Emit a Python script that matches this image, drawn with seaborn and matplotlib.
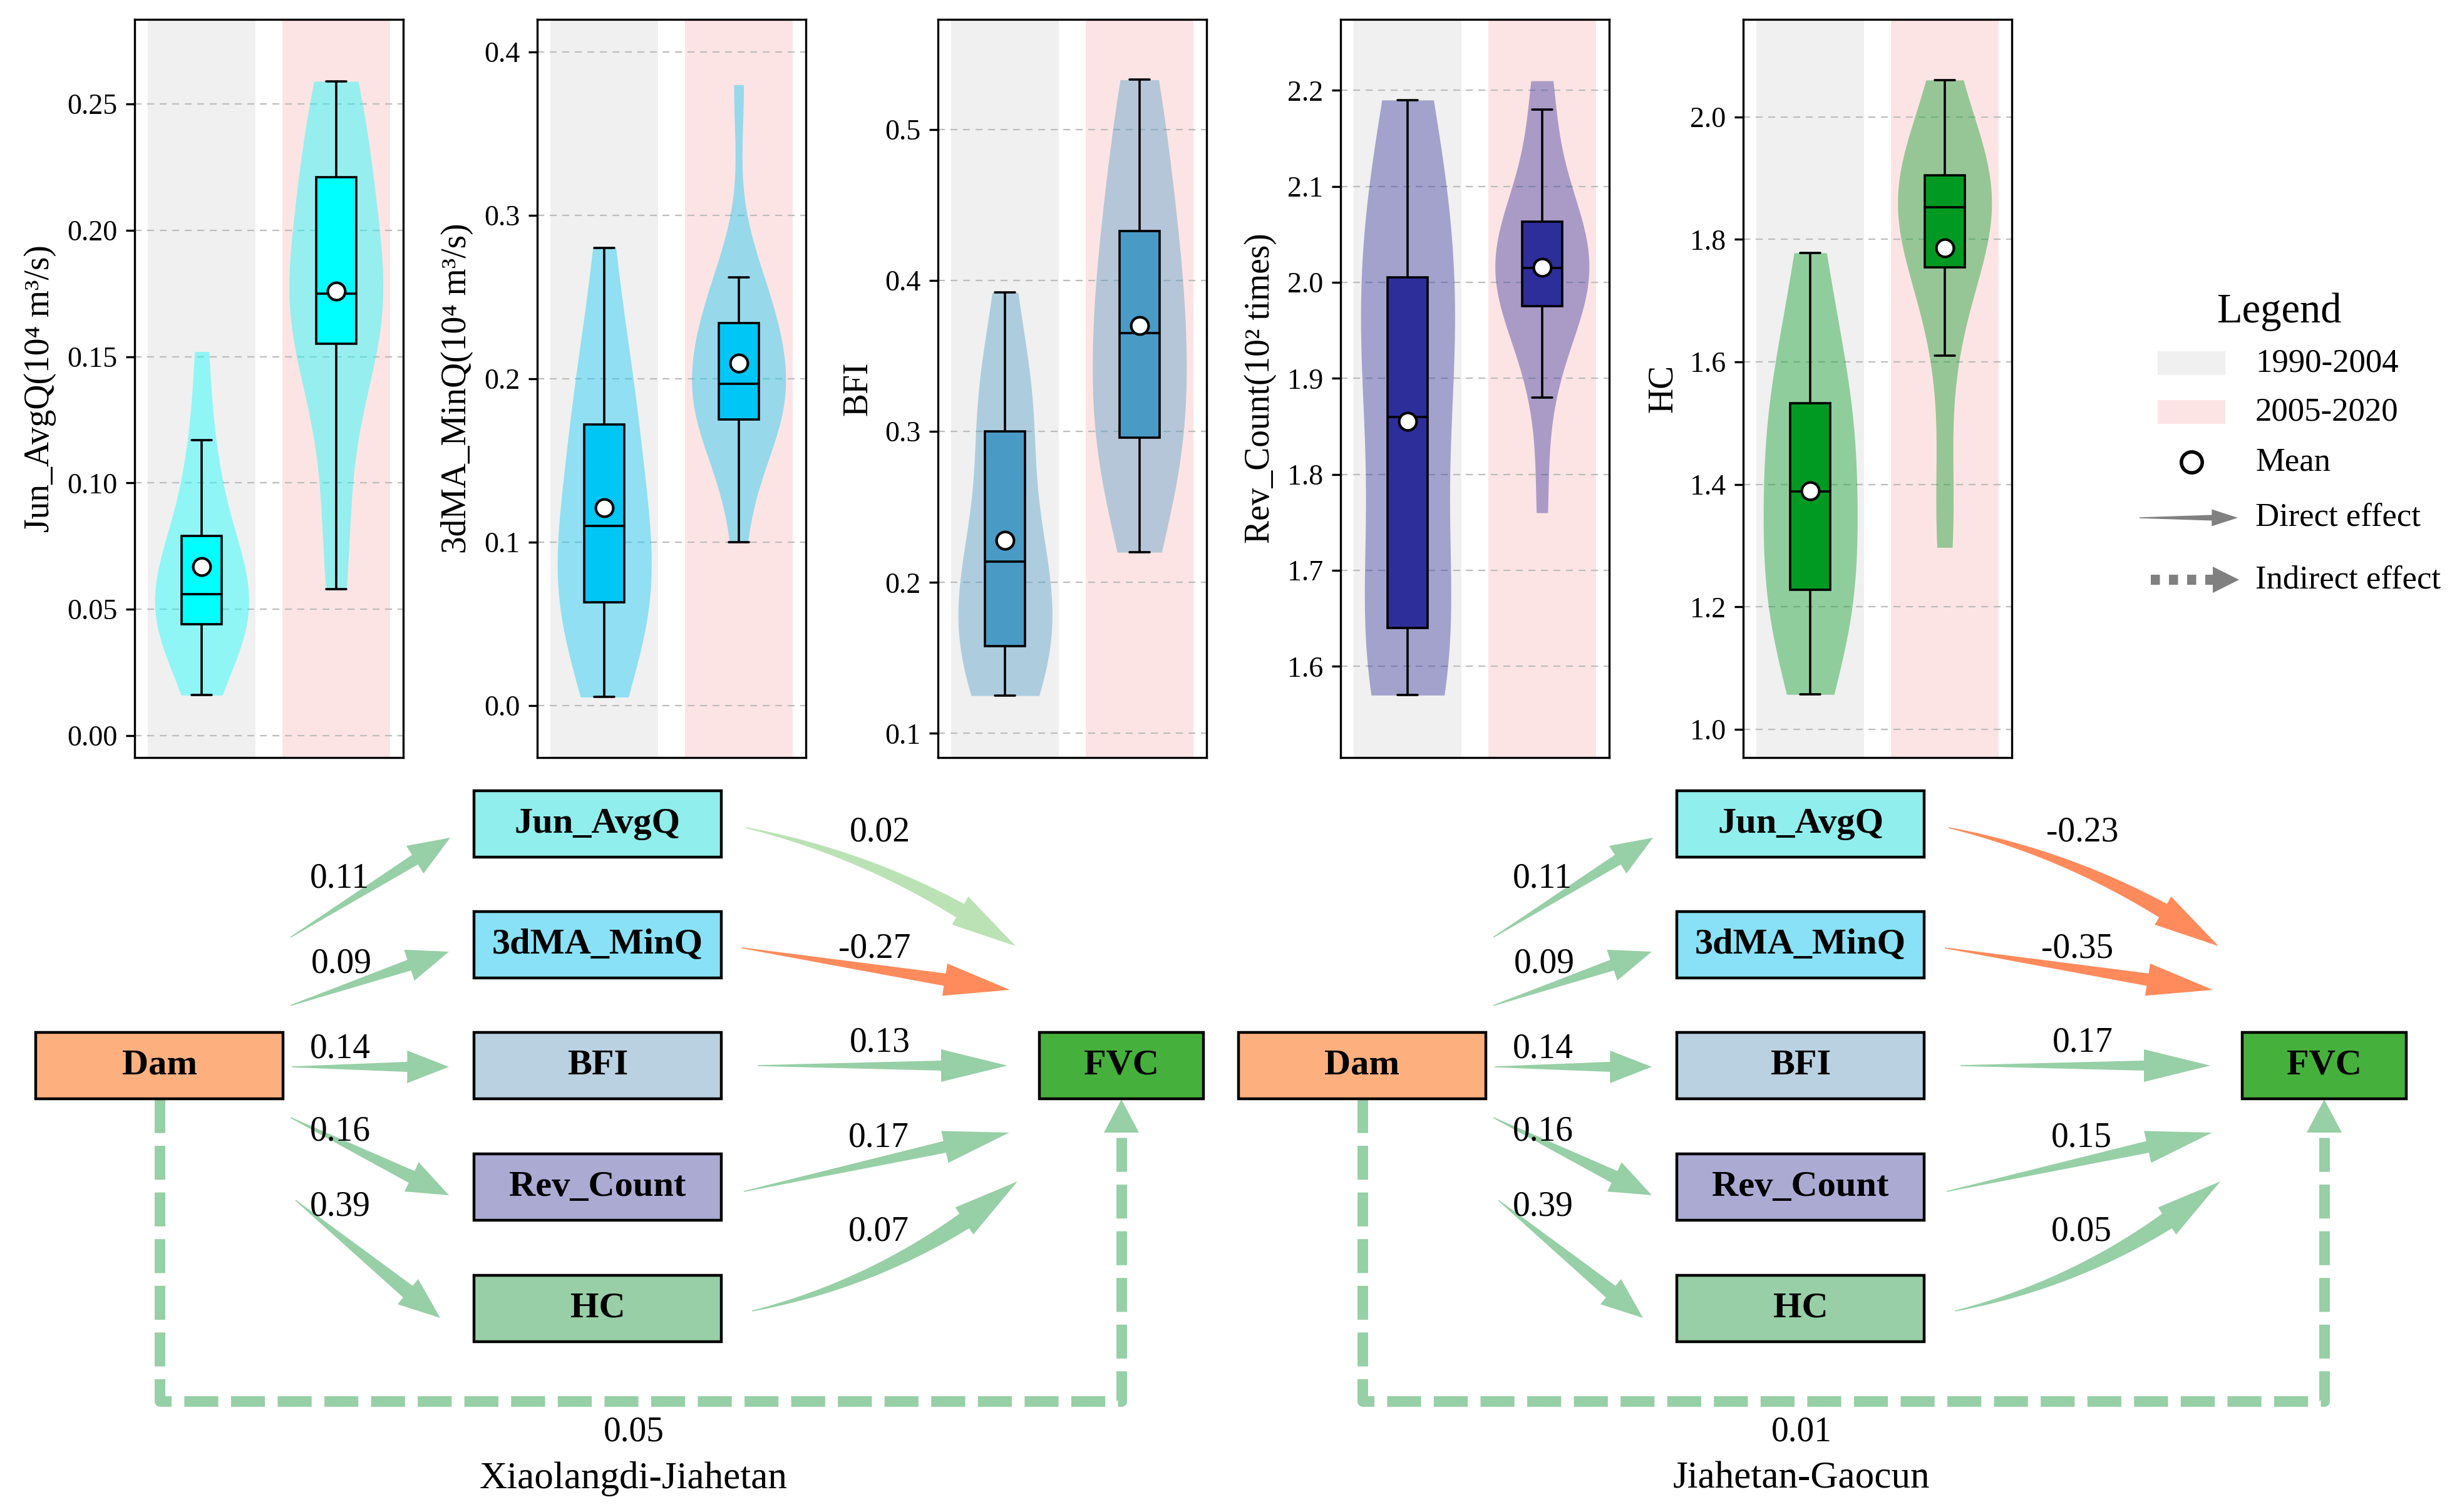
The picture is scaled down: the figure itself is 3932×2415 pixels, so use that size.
import numpy as np
import pandas as pd
import seaborn as sns
import matplotlib.pyplot as plt
from matplotlib.patches import Polygon, Rectangle
from matplotlib.ticker import FormatStrFormatter

sns.set_style('white')
plt.rcParams['font.family'] = ['Liberation Serif', 'DejaVu Serif']
plt.rcParams['text.color'] = 'black'
plt.rcParams['axes.labelcolor'] = 'black'
plt.rcParams['ytick.color'] = 'black'

# ---------------- data ----------------
periods = ['1990-2004', '2005-2020']
variables = ['Jun_AvgQ', '3dMA_MinQ', 'BFI', 'Rev_Count', 'HC']
ylabels = ['Jun_AvgQ(10⁴ m³/s)', '3dMA_MinQ(10⁴ m³/s)', 'BFI', 'Rev_Count(10² times)', 'HC']

jun_avgq_1990 = [0.016, 0.030, 0.040, 0.043, 0.045, 0.050, 0.053, 0.056, 0.064, 0.076, 0.077, 0.081, 0.105, 0.117, 0.152]
jun_avgq_2005 = [0.058, 0.085, 0.120, 0.152, 0.156, 0.163, 0.168, 0.172, 0.178, 0.183, 0.197, 0.219, 0.227, 0.231, 0.248, 0.259]
minq_1990 = [0.005, 0.030, 0.050, 0.061, 0.065, 0.080, 0.095, 0.110, 0.125, 0.140, 0.165, 0.179, 0.205, 0.225, 0.280]
minq_2005 = [0.100, 0.150, 0.168, 0.172, 0.176, 0.186, 0.192, 0.194, 0.200, 0.215, 0.230, 0.232, 0.240, 0.258, 0.262, 0.380]
bfi_1990 = [0.125, 0.135, 0.148, 0.155, 0.161, 0.182, 0.200, 0.214, 0.220, 0.235, 0.290, 0.310, 0.318, 0.335, 0.392]
bfi_2005 = [0.220, 0.250, 0.275, 0.292, 0.297, 0.320, 0.340, 0.360, 0.370, 0.385, 0.416, 0.430, 0.442, 0.480, 0.510, 0.533]
rev_1990 = [1.57, 1.59, 1.61, 1.63, 1.65, 1.76, 1.83, 1.86, 1.93, 1.97, 1.99, 2.02, 2.09, 2.135, 2.19]
rev_2005 = [1.760, 1.880, 1.940, 1.972, 1.976, 1.990, 2.000, 2.010, 2.020, 2.035, 2.050, 2.060, 2.072, 2.100, 2.180, 2.210]
hc_1990 = [1.057, 1.120, 1.180, 1.220, 1.236, 1.290, 1.340, 1.388, 1.420, 1.470, 1.520, 1.544, 1.600, 1.680, 1.778]
hc_2005 = [1.297, 1.400, 1.610, 1.700, 1.773, 1.780, 1.800, 1.845, 1.859, 1.862, 1.875, 1.900, 1.920, 1.930, 1.960, 2.060]

series = [(jun_avgq_1990, jun_avgq_2005), (minq_1990, minq_2005), (bfi_1990, bfi_2005),
          (rev_1990, rev_2005), (hc_1990, hc_2005)]

# path coefficients
reaches = ['Xiaolangdi-Jiahetan', 'Jiahetan-Gaocun']
dam_to_mediator = [[0.11, 0.09, 0.14, 0.16, 0.39], [0.11, 0.09, 0.14, 0.16, 0.39]]
mediator_to_fvc = [[0.02, -0.27, 0.13, 0.17, 0.07], [-0.23, -0.35, 0.17, 0.15, 0.05]]
indirect = [0.05, 0.01]

# ---------------- styles / layout ----------------
W, H = 3932, 2415
box_colors = ['#00FFFF', '#00C6F6', '#4A9AC6', '#2E2E9A', '#009A22']
band_colors = ['#F0F0F0', '#FDE4E4']
ylims = [(-0.0087, 0.2835), (-0.032, 0.42), (0.084, 0.573), (1.505, 2.274), (0.954, 2.159)]
yticks = [np.arange(0, 0.26, 0.05), np.arange(0, 0.41, 0.1), np.arange(0.1, 0.51, 0.1),
          np.arange(1.6, 2.21, 0.1), np.arange(1.0, 2.01, 0.2)]
yfmt = ['%.2f', '%.1f', '%.1f', '%.1f', '%.1f']
panel_left = [215, 858, 1498, 2141, 2784]
panel_w, panel_top, panel_bot = 429, 31, 1210

node_colors = {'Dam': '#FDB07E', 'Jun_AvgQ': '#90EEEC', '3dMA_MinQ': '#88E1F6', 'BFI': '#B9D1E1',
               'Rev_Count': '#AAAAD3', 'HC': '#98CFA6', 'FVC': '#46B03C'}
green, light_green, orange = '#97CFA6', '#BBE2B5', '#FF8A5B'

fig = plt.figure(figsize=(W / 200, H / 200), dpi=200)

# overlay axes in pixel coordinates for diagrams and legend
ov = fig.add_axes([0, 0, 1, 1])
ov.set_xlim(0, W)
ov.set_ylim(H, 0)
ov.axis('off')

# ---------------- violin + box panels ----------------
for i, var in enumerate(variables):
    a, b = series[i]
    ax = fig.add_axes([panel_left[i] / W, 1 - panel_bot / H, panel_w / W, (panel_bot - panel_top) / H])
    ax.axvspan(-0.4, 0.4, color=band_colors[0], lw=0, zorder=0)
    ax.axvspan(0.6, 1.4, color=band_colors[1], lw=0, zorder=0)
    df = pd.DataFrame({'period': [periods[0]] * len(a) + [periods[1]] * len(b), 'value': a + b})
    n0 = len(ax.collections)
    sns.violinplot(data=df, x='period', y='value', order=periods, color=box_colors[i], saturation=1,
                   inner=None, cut=0, density_norm='width', width=0.7, linewidth=0, ax=ax)
    for c in ax.collections[n0:]:
        c.set_alpha(0.4)
        c.set_zorder(1)
    sns.boxplot(data=df, x='period', y='value', order=periods, color=box_colors[i], saturation=1,
                width=0.3, showfliers=False, showmeans=True, linecolor='black', linewidth=1.3,
                meanprops=dict(marker='o', markerfacecolor='white', markeredgecolor='black',
                               markersize=10, markeredgewidth=1.5), ax=ax)
    ax.set_xlim(-0.5, 1.5)
    ax.set_ylim(*ylims[i])
    ax.set_yticks(yticks[i])
    ax.yaxis.set_major_formatter(FormatStrFormatter(yfmt[i]))
    ax.set_xticks([])
    ax.set_xlabel('')
    ax.set_ylabel(ylabels[i], fontsize=20, labelpad=6)
    ax.yaxis.grid(True, linestyle=(0, (5, 4)), color='#BDBDBD', linewidth=0.8)
    ax.set_axisbelow(True)
    ax.tick_params(axis='y', left=True, direction='out', length=5, width=1.2, labelsize=16.5, pad=5,
                   colors='black')
    for s in ax.spines.values():
        s.set_color('black')
        s.set_linewidth(1.2)


# ---------------- path diagrams ----------------
def draw_arrow(p0, p1, bend, color, shaft_w, head_w, head_len, start_w=1.5):
    p0 = np.asarray(p0, float)
    p1 = np.asarray(p1, float)
    d = p1 - p0
    ctrl = (p0 + p1) / 2 + bend * np.array([d[1], -d[0]])
    t = np.linspace(0, 1, 400)[:, None]
    pts = (1 - t) ** 2 * p0 + 2 * (1 - t) * t * ctrl + t ** 2 * p1
    s = np.concatenate([[0], np.cumsum(np.hypot(*np.diff(pts, axis=0).T))])
    k = np.searchsorted(s, s[-1] - head_len)
    body = pts[:k + 1]
    tan = np.gradient(body, axis=0)
    tan /= np.hypot(tan[:, 0], tan[:, 1])[:, None]
    nrm = np.column_stack([-tan[:, 1], tan[:, 0]])
    w = np.linspace(start_w, shaft_w, len(body))[:, None] / 2
    base, nb = body[-1], nrm[-1]
    poly = np.vstack([body + nrm * w, base + nb * head_w / 2, p1, base - nb * head_w / 2, (body - nrm * w)[::-1]])
    ov.add_patch(Polygon(poly, closed=True, facecolor=color, edgecolor='none', zorder=2))


def draw_node(x, y, w, h, name):
    ov.add_patch(Rectangle((x, y), w, h, facecolor=node_colors[name], edgecolor='black', lw=1.6, zorder=3))
    ov.text(x + w / 2, y + h / 2, name, ha='center', va='center', fontsize=21, fontweight='bold', zorder=4)


dam_box = (57, 1649, 395, 106)
med_x, med_w, med_h = 757, 395, 106
med_cy = [1316, 1509, 1702, 1896, 2090]
fvc_box = (1660, 1649, 262, 106)
reach_dx = [0, 1921]
a_tail = [(464, 1497), (464, 1606), (466, 1704), (464, 1785), (472, 1917)]
a_tip = [(719, 1338), (717, 1520), (717, 1704), (717, 1909), (703, 2105)]
a_shaft = [18, 18, 16, 21, 24]
a_label = [(542, 1403), (545, 1539), (543, 1675), (543, 1807), (543, 1928)]
b_tail = [(1191, 1322), (1185, 1514), (1210, 1702), (1188, 1903), (1201, 2094)]
b_tip = [(1622, 1511), (1613, 1581), (1609, 1702), (1612, 1809), (1625, 1887)]
b_bend = [0.1, 0, 0, 0, -0.12]
b_shaft = [25, 20, 16, 19, 28]
b_label = [(1405, 1329), (1397, 1516), (1405, 1665), (1403, 1818), (1403, 1968)]
loop_y = 2238
ind_label_x = [1012, 2877]
ind_label_y, title_y = 2288, 2362

for r, reach in enumerate(reaches):
    dx = reach_dx[r]
    draw_node(dam_box[0] + dx, dam_box[1], dam_box[2], dam_box[3], 'Dam')
    draw_node(fvc_box[0] + dx, fvc_box[1], fvc_box[2], fvc_box[3], 'FVC')
    for j, med in enumerate(variables):
        draw_node(med_x + dx, med_cy[j] - med_h / 2, med_w, med_h, med)
        va = dam_to_mediator[r][j]
        draw_arrow((a_tail[j][0] + dx, a_tail[j][1]), (a_tip[j][0] + dx, a_tip[j][1]), 0,
                   orange if va < 0 else green, a_shaft[j], 52, 67)
        ov.text(a_label[j][0] + dx, a_label[j][1], f'{va:.2f}', ha='center', va='center', fontsize=20, zorder=5)
        vb = mediator_to_fvc[r][j]
        col = orange if vb < 0 else (light_green if vb < 0.03 else green)
        draw_arrow((b_tail[j][0] + dx, b_tail[j][1]), (b_tip[j][0] + dx, b_tip[j][1]), b_bend[j],
                   col, b_shaft[j], 52, 106)
        ov.text(b_label[j][0] + dx, b_label[j][1], f'{vb:.2f}', ha='center', va='center', fontsize=20, zorder=5)
    # indirect effect path
    x0 = dam_box[0] + dam_box[2] / 2 + dx
    x1 = fvc_box[0] + fvc_box[2] / 2 + dx
    y_top = fvc_box[1] + fvc_box[3]
    ov.plot([x0, x0, x1, x1], [y_top, loop_y, loop_y, y_top + 54], color=green, lw=6.1,
            linestyle=(0, (3.2, 1.2)), dash_capstyle='butt', solid_joinstyle='miter', zorder=1)
    ov.add_patch(Polygon([(x1 - 28, y_top + 54), (x1 + 28, y_top + 54), (x1, y_top + 1)],
                         facecolor=green, edgecolor='none', zorder=2))
    ov.text(ind_label_x[r], ind_label_y, f'{indirect[r]:.2f}', ha='center', va='center', fontsize=20)
    ov.text(ind_label_x[r], title_y, reach, ha='center', va='center', fontsize=22)

# ---------------- legend ----------------
ov.text(3640, 498, 'Legend', ha='center', va='center', fontsize=24)
leg_y = [580, 658, 738, 827, 926]
leg_text = ['1990-2004', '2005-2020', 'Mean', 'Direct effect', 'Indirect effect']
for k in range(2):
    ov.add_patch(Rectangle((3446, leg_y[k] - 19), 108, 38, facecolor=band_colors[k], edgecolor='none'))
ov.plot([3500], [leg_y[2]], marker='o', markersize=12, markerfacecolor='white',
        markeredgecolor='black', markeredgewidth=2)
draw_arrow((3417, leg_y[3]), (3574, leg_y[3]), 0, '#808080', 9, 27, 42)
ov.plot([3435, 3534], [leg_y[4], leg_y[4]], color='#808080', lw=5.8, linestyle=(0, (0.9, 0.9)),
        dash_capstyle='butt')
ov.add_patch(Polygon([(3534, leg_y[4] - 21), (3534, leg_y[4] + 21), (3576, leg_y[4])],
                     facecolor='#808080', edgecolor='none'))
for k, txt in enumerate(leg_text):
    ov.text(3602, leg_y[k], txt, ha='left', va='center', fontsize=19)

fig.savefig('out.png', dpi=200)
